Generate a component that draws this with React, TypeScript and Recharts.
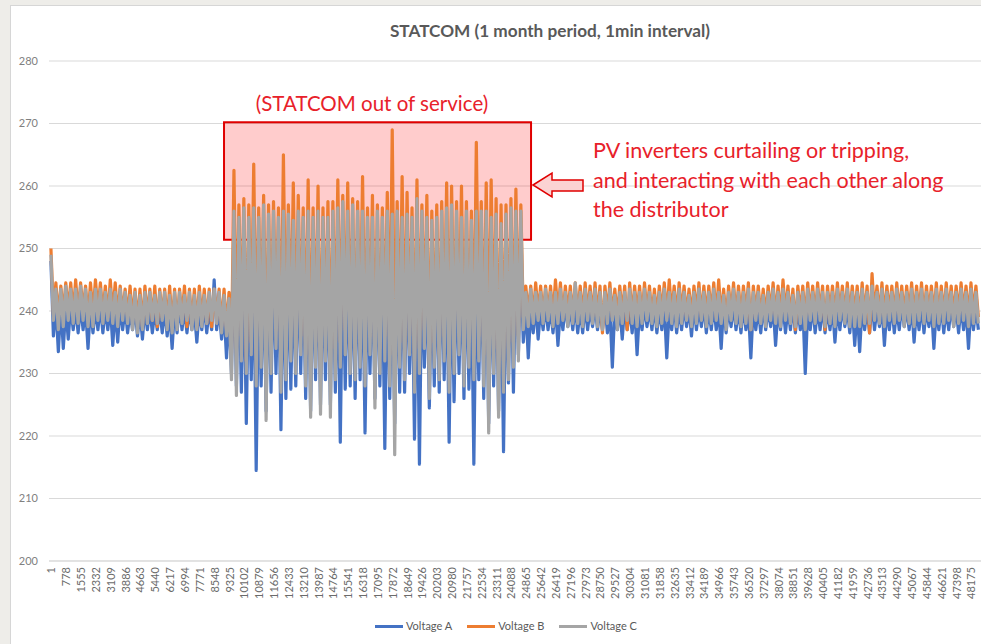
import React from "react";
import { LineChart, Line, XAxis, YAxis, CartesianGrid, ReferenceArea } from "recharts";

// one kept sample every 129.5 minutes (6 per labelled category)
const STEP = 129.5;

const X_TICKS = [
  1, 778, 1555, 2332, 3109, 3886, 4663, 5440, 6217, 6994, 7771, 8548, 9325, 10102, 10879, 11656,
  12433, 13210, 13987, 14764, 15541, 16318, 17095, 17872, 18649, 19426, 20203, 20980, 21757, 22534,
  23311, 24088, 24865, 25642, 26419, 27196, 27973, 28750, 29527, 30304, 31081, 31858, 32635, 33412,
  34189, 34966, 35743, 36520, 37297, 38074, 38851, 39628, 40405, 41182, 41959, 42736, 43513, 44290,
  45067, 45844, 46621, 47398, 48175,
];

const Y_TICKS = [200, 210, 220, 230, 240, 250, 260, 270, 280];

const VOLTAGE_A = [
  248, 236, 241, 233.5, 241, 234, 240.5, 235.5, 241, 237,
  240.5, 236.5, 241, 237, 240.5, 234, 241, 236.5, 240.5, 237,
  241, 236.5, 240.5, 237, 241, 234.5, 240.5, 235, 241, 237,
  240.5, 236.5, 240, 237, 240.5, 236, 240, 235.5, 240.5, 237,
  240.5, 236.5, 240, 237, 240.5, 236.5, 240.5, 236, 240, 234,
  240.5, 236.5, 241, 237, 240.5, 236.5, 240.5, 237, 240, 235,
  240.5, 237, 241, 236.5, 240.5, 237, 245, 237, 240.5, 235.5,
  240, 232.5, 240, 230, 248, 228, 247, 227, 248, 222,
  247, 229, 248, 214.5, 247, 228, 248, 224, 247, 227,
  248, 230, 247, 221, 248, 226, 247, 227.5, 246, 228,
  248, 230, 247, 226, 248, 224, 247, 229, 248, 225,
  247, 229, 246, 225, 248, 227, 248, 219, 249, 227.5,
  248, 228, 247, 226, 248, 229, 248, 220.5, 247, 230,
  247, 226, 248, 228, 247, 218, 248, 226, 247, 222,
  248, 227, 247, 227, 247, 230, 247, 219.5, 249, 215.5,
  248, 231, 247, 224.5, 246, 228, 247, 227, 248, 229,
  248, 219, 248, 225.5, 248, 230, 247, 226, 248, 227.5,
  246, 215.5, 248, 229, 248, 226, 248, 222, 247, 228,
  247, 224, 246, 217.5, 247, 228.5, 248, 227, 248, 233,
  247, 235, 241, 232.5, 240.5, 236.5, 241, 235.5, 240.5, 237,
  241, 237, 240.5, 236.5, 241, 234.5, 240.5, 237, 241, 237.5,
  240.5, 237, 241, 236.5, 240.5, 236.5, 241, 237, 240.5, 237.5,
  241, 237, 240.5, 237, 241, 236.5, 240.5, 231, 241, 237,
  240.5, 235.5, 241, 237, 240.5, 236.5, 241, 233, 240.5, 237,
  241, 237.5, 240.5, 237, 241, 236.5, 240.5, 237, 241, 232.5,
  240.5, 237, 241, 236.5, 240.5, 237, 241, 237.5, 240.5, 236,
  241, 237, 240.5, 237.5, 241, 236.5, 240.5, 237, 241, 237,
  240.5, 234, 241, 236.5, 240.5, 237.5, 241, 237, 240.5, 236.5,
  241, 237, 240.5, 232.5, 241, 237, 240.5, 236.5, 241, 237,
  240.5, 237.5, 241, 234.5, 240.5, 237, 241, 236.5, 240.5, 237,
  241, 236.5, 240.5, 237, 241, 230, 240.5, 237, 241, 236.5,
  240.5, 237, 241, 236.5, 240.5, 237, 241, 235, 240.5, 237,
  241, 237.5, 240.5, 236.5, 241, 234.5, 240.5, 233.5, 241, 237,
  240.5, 236.5, 241.5, 237, 240.5, 237.5, 241, 234.5, 240.5, 237,
  241, 236.5, 240.5, 237, 241, 237.5, 240.5, 237, 241, 235,
  240.5, 237, 241, 236.5, 240.5, 237.5, 241, 234, 240.5, 237,
  241, 236.5, 240.5, 237, 241, 237.5, 240.5, 236.5, 241, 237,
  240.5, 234, 241, 237, 240.5, 237,
];

const VOLTAGE_B = [
  250, 239.5, 244.5, 239, 244, 239.5, 244.5, 240, 244.5, 239.5,
  245, 239.5, 244.5, 240, 244, 239, 244.5, 239.5, 245, 240,
  244.5, 239.5, 244, 239, 245, 239.5, 244.5, 239, 244, 239.5,
  243.5, 239, 244, 238.5, 243.5, 238, 243.5, 237.5, 244, 239,
  243.5, 238.5, 244, 237.5, 243.5, 239, 243.5, 238, 244, 237.5,
  243.5, 238, 243.5, 239, 244, 237.5, 243.5, 238, 243.5, 237.5,
  244, 238.5, 243.5, 238, 243.5, 237.5, 243.5, 238.5, 243.5, 237.5,
  243.5, 237, 243, 233, 262.5, 234, 257, 236, 258, 232,
  257, 235, 263.5, 233, 256.5, 236, 258.5, 231, 257, 235,
  257.5, 237, 256.5, 232, 265, 234, 257, 236, 260.5, 234,
  258.5, 236, 256.5, 233, 261, 231, 256.5, 235, 260, 230,
  256.5, 236, 257.5, 231, 257.5, 234, 261, 235, 258.5, 237,
  260.5, 234, 258, 233, 257.5, 235, 261.5, 233, 256.5, 236,
  258.5, 231, 257, 234, 256.5, 236, 259, 233, 269, 230,
  257.5, 235, 261.5, 233, 259, 236, 256.5, 232, 261, 234,
  257, 237, 258.5, 231, 256, 235, 257, 233, 257.5, 236,
  260.5, 232, 260, 234, 257.5, 236, 260, 232, 257.5, 235,
  256, 233, 267, 236, 257.5, 233, 260.5, 231, 261, 234,
  258, 230, 257, 232, 257, 234, 258, 235, 259.5, 236,
  257, 239, 244, 239.5, 244, 239, 244.5, 239.5, 244, 239,
  244, 239.5, 244, 239, 245, 239.5, 244.5, 239, 244, 239.5,
  244, 239, 244.5, 239.5, 244, 239, 244.5, 239.5, 244, 239,
  244.5, 239, 244, 236.5, 244, 239.5, 244.5, 239, 243.5, 239,
  244, 239.5, 244, 237, 244.5, 239, 244, 239.5, 244, 239,
  244.5, 239.5, 244, 239, 243.5, 239, 244, 239.5, 244.5, 239,
  245, 239.5, 244, 239, 244.5, 239.5, 244, 239, 243.5, 239,
  244, 239.5, 244.5, 239, 244, 239, 244, 239.5, 244.5, 239,
  245, 239, 243.5, 238.5, 244, 239.5, 244.5, 239, 244, 239,
  244, 239.5, 244.5, 237, 244, 239.5, 244, 239, 243.5, 239,
  244, 239.5, 244.5, 239, 244, 239, 245, 239.5, 244, 239,
  243.5, 237, 244, 239.5, 244, 238.5, 244.5, 239.5, 244, 239,
  244.5, 239.5, 244, 237, 244, 239.5, 244, 239, 244.5, 239.5,
  244, 239, 244.5, 239, 244, 239, 244, 238.5, 244.5, 239,
  244, 236.5, 246, 239.5, 244, 239, 244.5, 239, 244, 239.5,
  244, 239, 244.5, 239.5, 244, 239, 244, 239.5, 244.5, 239,
  244, 239.5, 244.5, 239, 244, 239.5, 244, 239, 244.5, 239,
  244, 239, 244.5, 239.5, 244, 239, 244, 239.5, 244.5, 239.5,
  244, 239, 244.5, 239.5, 244, 239,
];

const VOLTAGE_C = [
  249, 238.5, 243.5, 237, 243.5, 237.5, 244, 238.5, 243.5, 238,
  243.5, 238, 244, 238.5, 243.5, 237.5, 243, 237.5, 243.5, 238.5,
  243.5, 238, 243, 238.5, 243.5, 238, 243, 237.5, 243.5, 238.5,
  243, 238, 242.5, 237, 243, 236.5, 242.5, 237, 243, 238,
  243, 238.5, 242.5, 238, 243, 238.5, 243, 237, 242.5, 236.5,
  243, 237, 243, 238, 242.5, 238.5, 243, 237, 242.5, 237,
  243, 237.5, 242.5, 238, 243, 238.5, 243.5, 238, 243, 236.5,
  242.5, 236, 242, 229, 256, 226.5, 255, 232, 256.5, 230,
  255, 233, 256.5, 228, 255, 231, 257, 222.5, 255.5, 230,
  256, 234, 255, 227, 256, 229, 255.5, 232, 254.5, 230,
  256, 233, 255, 228, 256, 223, 255, 231, 256, 223.5,
  255, 232, 255, 223, 256, 229, 256.5, 231, 257.5, 233,
  256, 230, 257, 229, 256, 231, 256, 228, 255, 233,
  255, 224.5, 256, 230, 255, 232, 256, 228, 255.5, 217,
  256, 231, 255, 229, 255.5, 233, 255, 227, 258, 230,
  256, 234, 255, 226, 254.5, 231, 255, 229, 256, 232,
  256.5, 227, 257, 230, 256, 233, 255, 228, 256, 231,
  254.5, 229, 256, 232, 256, 228, 256, 220.5, 255, 230,
  255.5, 223, 254, 227, 255.5, 229, 256.5, 231, 256, 232,
  256, 237, 243, 237.5, 243.5, 238, 243, 238.5, 243, 238,
  243.5, 238.5, 243, 237.5, 243, 238, 243.5, 238.5, 243, 237.5,
  243, 238, 244.5, 238, 243, 237.5, 243.5, 238.5, 243, 238,
  243.5, 237.5, 243, 237, 243, 238, 243.5, 238.5, 242.5, 237,
  243, 238, 243, 238.5, 243.5, 238, 243, 237.5, 243, 238,
  243.5, 238.5, 243, 238, 242.5, 237.5, 243, 238, 243.5, 238.5,
  243, 238, 243, 237.5, 243.5, 238, 243, 238.5, 242.5, 237.5,
  243, 238, 243.5, 238.5, 243, 237.5, 243, 238, 243.5, 238.5,
  243, 238, 242.5, 237, 243, 238.5, 243.5, 238, 243, 237.5,
  243, 238, 243.5, 237, 243, 238.5, 243, 238, 242.5, 237.5,
  243, 238.5, 243.5, 238, 243, 237.5, 243.5, 238.5, 243, 238,
  242.5, 237.5, 243, 238, 243, 237, 243.5, 238.5, 243, 238,
  243.5, 238.5, 243, 237.5, 243, 238, 243, 237.5, 243.5, 238.5,
  243, 238, 243.5, 237.5, 243, 237.5, 243, 237.5, 243.5, 238,
  243, 238, 244, 238.5, 243, 238, 243.5, 237.5, 243, 238.5,
  243, 238, 243.5, 238.5, 243, 237.5, 243, 238, 243.5, 237.5,
  243, 238.5, 243.5, 238, 243, 238.5, 243, 237.5, 243.5, 238,
  243, 238, 243.5, 238.5, 243, 237.5, 243, 238, 243.5, 238.5,
  243, 237.5, 243.5, 238, 243, 238,
];

const SERIES = [
  { key: "a", name: "Voltage A", color: "#4472C4" },
  { key: "b", name: "Voltage B", color: "#ED7D31" },
  { key: "c", name: "Voltage C", color: "#A5A5A5" },
];

// STATCOM out of service window (minutes, volts)
const OUTAGE = { from: 9064, to: 25140, low: 251.4, high: 270.2 };

const data = VOLTAGE_A.map((a, i) => ({
  minute: 1 + i * STEP,
  a,
  b: VOLTAGE_B[i],
  c: VOLTAGE_C[i],
}));

const FONT = "Lato, 'Open Sans', sans-serif";
const RED = "#e8212a";

function MinuteTick({ x, y, payload }: any) {
  return (
    <text
      x={x}
      y={y}
      transform={`rotate(-90 ${x} ${y})`}
      textAnchor="end"
      dominantBaseline="central"
      fontSize={11}
      fill="#6b6b6b"
      fontFamily={FONT}
    >
      {payload.value}
    </text>
  );
}

export default function App() {
  return (
    <div style={{ position: "absolute", left: 0, top: 0, width: 981, height: 644, background: "#eeede9", overflow: "hidden", fontFamily: FONT }}>
      <div style={{ position: "absolute", left: 10, top: 5, width: 971, height: 639, background: "#fff", borderLeft: "1px solid #d6d6d6", borderTop: "1px solid #d6d6d6" }}>
        <LineChart width={971} height={639} data={data} margin={{ top: 55, right: 1, bottom: 0, left: 0 }}>
          <CartesianGrid vertical={false} stroke="#d9d9d9" />
          <XAxis
            dataKey="minute"
            type="number"
            domain={[-100, 48700]}
            ticks={X_TICKS}
            interval={0}
            height={84}
            tick={<MinuteTick />}
            tickLine={false}
            tickMargin={0}
            axisLine={{ stroke: "#d9d9d9" }}
          />
          <YAxis
            domain={[200, 280]}
            ticks={Y_TICKS}
            width={38}
            tickLine={false}
            tickMargin={5}
            axisLine={false}
            tick={{ fontSize: 11, fill: "#808080", fontFamily: FONT }}
          />
          <ReferenceArea
            x1={OUTAGE.from}
            x2={OUTAGE.to}
            y1={OUTAGE.low}
            y2={OUTAGE.high}
            fill="#ff0000"
            fillOpacity={0.2}
            stroke="#e00000"
            strokeWidth={2}
          />
          {SERIES.map((s) => (
            <Line
              key={s.key}
              type="linear"
              dataKey={s.key}
              name={s.name}
              stroke={s.color}
              strokeWidth={3.2}
              strokeLinejoin="round"
              dot={false}
              isAnimationActive={false}
            />
          ))}
        </LineChart>
      </div>

      <div style={{ position: "absolute", left: 350, top: 20, width: 400, textAlign: "center", fontSize: 17.2, fontWeight: 700, color: "#595959" }}>
        STATCOM (1 month period, 1min interval)
      </div>

      <div style={{ position: "absolute", left: 202, top: 90, width: 340, textAlign: "center", fontSize: 20.5, color: RED, lineHeight: "26px" }}>
        (STATCOM out of service)
      </div>

      <svg style={{ position: "absolute", left: 0, top: 0 }} width={981} height={644}>
        <polygon
          points="533,185 552,173 552,180 583,180 583,191 552,191 552,197"
          fill="#fbd3d3"
          stroke="#e00000"
          strokeWidth={1.5}
        />
      </svg>

      <div style={{ position: "absolute", left: 593, top: 136, fontSize: 21.5, lineHeight: "29.5px", color: RED, whiteSpace: "nowrap" }}>
        PV inverters curtailing or tripping,
        <br />
        and interacting with each other along
        <br />
        the distributor
      </div>

      <div style={{ position: "absolute", left: 375, top: 619, display: "flex", gap: 15, fontSize: 11, color: "#595959", lineHeight: "14px" }}>
        {SERIES.map((s) => (
          <div key={s.key} style={{ display: "flex", alignItems: "center", gap: 3 }}>
            <span style={{ display: "inline-block", width: 28, height: 3, background: s.color }} />
            <span>{s.name}</span>
          </div>
        ))}
      </div>
    </div>
  );
}
